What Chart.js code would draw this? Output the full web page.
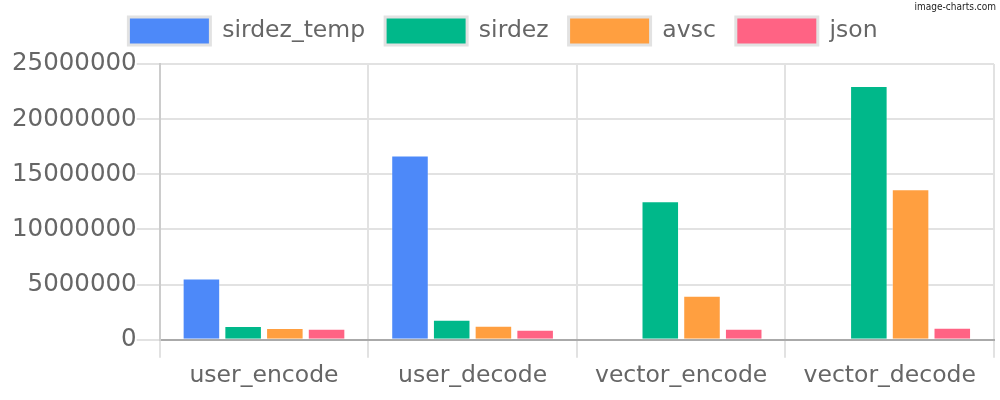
<!DOCTYPE html>
<html>
<head>
<meta charset="utf-8">
<script src="https://cdn.jsdelivr.net/npm/chart.js@4"></script>
<style>
  html, body { margin: 0; padding: 0; background: #fff; }
  #wrap { width: 1000px; height: 400px; }
</style>
</head>
<body>
<div id="wrap"><canvas id="grafico"></canvas></div>
<script>
// dados
const categorias = ['user_encode', 'user_decode', 'vector_encode', 'vector_decode'];
const sirdezTemp = [5550000, 16700000, null, null];
const sirdez = [1250000, 1820000, 12550000, 23000000];
const avsc = [1060000, 1270000, 4000000, 13640000];
const json = [1000000, 900000, 1000000, 1090000];
const ticksY = [0, 5000000, 10000000, 15000000, 20000000, 25000000];

const cinza = '#666';
const fonte = { family: 'DejaVu Sans', size: 23.5 };

// marca d'agua do canto superior direito
const marcaDagua = {
    id: 'marcaDagua',
    afterDraw(chart) {
        const ctx = chart.ctx;
        ctx.save();
        ctx.font = '10px "DejaVu Sans Condensed", "DejaVu Sans"';
        ctx.fillStyle = '#222';
        ctx.textAlign = 'right';
        ctx.textBaseline = 'top';
        ctx.fillText('image-charts.com', 996, 2);
        ctx.restore();
    }
};

// espaco extra abaixo da legenda
const espacoLegenda = {
    id: 'espacoLegenda',
    beforeInit(chart) {
        const fitOriginal = chart.legend.fit;
        chart.legend.fit = function () {
            fitOriginal.bind(chart.legend)();
            this.height += 9;
        };
    }
};

function serie(nome, valores, cor) {
    return {
        label: nome,
        data: valores,
        backgroundColor: cor,
        borderColor: 'rgba(255,255,255,0.35)',
        borderWidth: 1
    };
}

new Chart(document.querySelector('#grafico'), {
    type: 'bar',
    data: {
        labels: categorias,
        datasets: [
            serie('sirdez_temp', sirdezTemp, '#4d89f9'),
            serie('sirdez', sirdez, '#00b88a'),
            serie('avsc', avsc, '#ff9f40'),
            serie('json', json, '#ff6384')
        ]
    },
    plugins: [marcaDagua, espacoLegenda],
    options: {
        responsive: true,
        maintainAspectRatio: false,
        animation: false,
        layout: { padding: { left: 12, right: 6, top: -3, bottom: 6 } },
        plugins: {
            tooltip: { enabled: false },
            legend: {
                position: 'top',
                labels: {
                    font: fonte,
                    color: cinza,
                    boxWidth: 82,
                    boxHeight: 28,
                    padding: 20,
                    generateLabels(chart) {
                        return chart.data.datasets.map((ds, i) => ({
                            text: ds.label,
                            fillStyle: ds.backgroundColor,
                            strokeStyle: '#e2e2e2',
                            lineWidth: 3,
                            fontColor: cinza,
                            hidden: false,
                            datasetIndex: i
                        }));
                    }
                }
            }
        },
        scales: {
            x: {
                grid: { color: '#e2e2e2', lineWidth: 2, tickLength: 18, offset: true },
                border: { color: '#aaa', width: 2 },
                ticks: { font: fonte, color: cinza, padding: 4 }
            },
            y: {
                min: 0,
                max: 25000000,
                afterBuildTicks(axis) {
                    axis.ticks = ticksY.map(v => ({ value: v }));
                },
                grid: { color: '#e2e2e2', lineWidth: 2, tickLength: 23 },
                border: { color: '#ccc', width: 2 },
                ticks: {
                    font: { family: 'DejaVu Sans', size: 24.5 },
                    color: cinza,
                    padding: 0,
                    callback: v => String(v)
                }
            }
        }
    }
});
</script>
</body>
</html>
